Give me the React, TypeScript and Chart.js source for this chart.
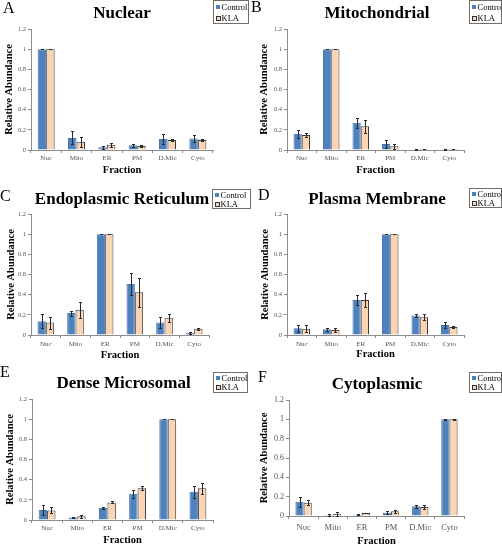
import React, { useEffect, useRef } from 'react';
import { Chart, registerables } from 'chart.js';

Chart.register(...registerables);

// ---------- data ----------
const categories = ['Nuc', 'Mito', 'ER', 'PM', 'D.Mic', 'Cyto'];
const seriesNames = ['Control', 'KLA'];
const yMin = 0;
const yMax = 1.2;
const yStep = 0.2;

const nuclearControl = [1, 0.12, 0.028, 0.046, 0.11, 0.115];
const nuclearControlErr = [0.003, 0.065, 0.014, 0.016, 0.05, 0.035];
const nuclearKLA = [1, 0.082, 0.052, 0.039, 0.1, 0.1];
const nuclearKLAErr = [0.003, 0.05, 0.02, 0.012, 0.012, 0.01];

const mitoControl = [0.16, 1, 0.27, 0.059, 0.005, 0.005];
const mitoControlErr = [0.04, 0.003, 0.05, 0.04, 0.002, 0.002];
const mitoKLA = [0.15, 1, 0.236, 0.036, 0.01, 0.01];
const mitoKLAErr = [0.02, 0.003, 0.065, 0.025, 0.002, 0.002];

const erControl = [0.137, 0.217, 1, 0.507, 0.123, 0.023];
const erControlErr = [0.07, 0.025, 0.003, 0.11, 0.055, 0.01];
const erKLA = [0.123, 0.25, 1, 0.423, 0.17, 0.063];
const erKLAErr = [0.06, 0.08, 0.003, 0.145, 0.04, 0.01];

const pmControl = [0.067, 0.057, 0.347, 1, 0.193, 0.1];
const pmControlErr = [0.033, 0.016, 0.053, 0.003, 0.017, 0.027];
const pmKLA = [0.063, 0.05, 0.347, 1, 0.177, 0.08];
const pmKLAErr = [0.037, 0.023, 0.07, 0.003, 0.03, 0.013];

const dmicControl = [0.098, 0.026, 0.118, 0.26, 1, 0.28];
const dmicControlErr = [0.046, 0.005, 0.007, 0.04, 0.003, 0.06];
const dmicKLA = [0.095, 0.036, 0.174, 0.315, 1, 0.315];
const dmicKLAErr = [0.03, 0.014, 0.01, 0.02, 0.003, 0.055];

const cytoControl = [0.148, 0.01, 0.014, 0.034, 0.1, 1];
const cytoControlErr = [0.052, 0.007, 0.004, 0.014, 0.014, 0.003];
const cytoKLA = [0.138, 0.02, 0.03, 0.048, 0.093, 1];
const cytoKLAErr = [0.027, 0.018, 0.004, 0.017, 0.021, 0.003];

const panelTitles = ['Nuclear', 'Mitochondrial', 'Endoplasmic Reticulum', 'Plasma Membrane', 'Dense Microsomal', 'Cytoplasmic'];
const panelLetters = ['A', 'B', 'C', 'D', 'E', 'F'];
const xAxisTitle = 'Fraction';
const yAxisTitle = 'Relative Abundance';

// ---------- style / layout ----------
const SERIF = '"Liberation Serif", "Times New Roman", Times, serif';
const CONTROL_FILL = '#4f81bd';
const CONTROL_BORDER = '#4676b0';
const KLA_FILL = '#fbd4b4';
const KLA_BORDER = '#3c3c3c';
const AXIS_GRAY = '#8c8c8c';
const TICK_GRAY = '#555555';

type Layout = {
  left: number; top: number; w: number; h: number;
  pl: number; pr: number; pt: number; pb: number;
  xTickPad: number; xTitleY: number; yTitleX: number;
  tickSize: number; catSize: number;
  titleX: number; titleTop: number;
  letterX: number; letterTop: number;
  lx: number; ly: number; lw: number; lh: number;
};

const layouts: Layout[] = [
  { left: 0, top: 0, w: 251, h: 181, pl: 31, pr: 213, pt: 29, pb: 150, xTickPad: 1, xTitleY: 170.5, yTitleX: 9.5, tickSize: 6.5, catSize: 7, titleX: 122, titleTop: 3.7, letterX: 3, letterTop: 0, lx: 213, ly: 0, lw: 36, lh: 24 },
  { left: 251, top: 0, w: 251, h: 181, pl: 36, pr: 213, pt: 29, pb: 150, xTickPad: 1, xTitleY: 170.5, yTitleX: 13, tickSize: 6.5, catSize: 7, titleX: 126, titleTop: 3.7, letterX: 0, letterTop: -1, lx: 218, ly: 0, lw: 33, lh: 24 },
  { left: 0, top: 181, w: 251, h: 181, pl: 31, pr: 209, pt: 33, pb: 154, xTickPad: 2, xTitleY: 174, yTitleX: 11, tickSize: 6.5, catSize: 7, titleX: 122, titleTop: 9.3, letterX: 0, letterTop: 6.5, lx: 212, ly: 8, lw: 39, lh: 20 },
  { left: 251, top: 181, w: 251, h: 181, pl: 36, pr: 213, pt: 33, pb: 154, xTickPad: 2, xTitleY: 173.5, yTitleX: 14, tickSize: 6.5, catSize: 7, titleX: 126, titleTop: 8.7, letterX: 7, letterTop: 5.5, lx: 218, ly: 7, lw: 33, lh: 20 },
  { left: 0, top: 362, w: 251, h: 182, pl: 32, pr: 213, pt: 37, pb: 158, xTickPad: 1, xTitleY: 178, yTitleX: 10, tickSize: 6.5, catSize: 7, titleX: 123.5, titleTop: 12, letterX: 0, letterTop: 2, lx: 213, ly: 10, lw: 35, lh: 21 },
  { left: 251, top: 362, w: 251, h: 182, pl: 38, pr: 213, pt: 38, pb: 154, xTickPad: 3.5, xTitleY: 179, yTitleX: 13, tickSize: 8, catSize: 8.5, titleX: 126, titleTop: 13, letterX: 7, letterTop: 6.5, lx: 218, ly: 10, lw: 33, lh: 21 },
];

const panelData = [
  [nuclearControl, nuclearControlErr, nuclearKLA, nuclearKLAErr],
  [mitoControl, mitoControlErr, mitoKLA, mitoKLAErr],
  [erControl, erControlErr, erKLA, erKLAErr],
  [pmControl, pmControlErr, pmKLA, pmKLAErr],
  [dmicControl, dmicControlErr, dmicKLA, dmicKLAErr],
  [cytoControl, cytoControlErr, cytoKLA, cytoKLAErr],
];

const errorBarPlugin = {
  id: 'errorBars',
  afterDatasetsDraw(chart: any) {
    const ctx = chart.ctx;
    const yScale = chart.scales.y;
    chart.data.datasets.forEach((ds: any, i: number) => {
      const meta = chart.getDatasetMeta(i);
      const errs: number[] = ds.errors || [];
      meta.data.forEach((bar: any, j: number) => {
        const v = ds.data[j];
        const e = errs[j] || 0;
        const x = Math.round(bar.x) + 0.5;
        const yT = Math.round(yScale.getPixelForValue(v + e)) + 0.5;
        const yB = Math.round(yScale.getPixelForValue(Math.max(0, v - e))) + 0.5;
        ctx.save();
        ctx.strokeStyle = '#2a2a2a';
        ctx.lineWidth = 1;
        ctx.beginPath();
        ctx.moveTo(x, yT);
        ctx.lineTo(x, yB);
        ctx.moveTo(x - 1.5, yT);
        ctx.lineTo(x + 1.5, yT);
        ctx.moveTo(x - 1.5, yB);
        ctx.lineTo(x + 1.5, yB);
        ctx.stroke();
        ctx.restore();
      });
    });
  },
};

function Panel({ idx }: { idx: number }) {
  const ref = useRef<HTMLCanvasElement | null>(null);
  const L = layouts[idx];
  const [ctrl, ctrlErr, kla, klaErr] = panelData[idx];

  useEffect(() => {
    if (!ref.current) return;
    const chart = new Chart(ref.current, {
      type: 'bar',
      data: {
        labels: categories,
        datasets: [
          {
            label: seriesNames[0], data: ctrl, errors: ctrlErr,
            backgroundColor: CONTROL_FILL, borderColor: CONTROL_BORDER, borderWidth: 1,
            categoryPercentage: 0.56, barPercentage: 1.0,
          } as any,
          {
            label: seriesNames[1], data: kla, errors: klaErr,
            backgroundColor: KLA_FILL, borderColor: KLA_BORDER, borderWidth: 1,
            categoryPercentage: 0.56, barPercentage: 1.0,
          } as any,
        ],
      },
      options: {
        responsive: false,
        maintainAspectRatio: false,
        animation: false,
        devicePixelRatio: 1,
        layout: { padding: { left: 0, right: L.w - L.pr, top: L.pt, bottom: 0 } },
        plugins: { legend: { display: false }, tooltip: { enabled: false }, title: { display: false } },
        scales: {
          x: {
            grid: { display: true, drawOnChartArea: false, drawTicks: true, tickLength: 3, color: AXIS_GRAY, offset: true },
            border: { display: true, color: AXIS_GRAY, width: 1 },
            ticks: { font: { family: SERIF, size: L.catSize }, color: TICK_GRAY, padding: L.xTickPad, maxRotation: 0, autoSkip: false },
            title: {
              display: true, text: xAxisTitle, color: '#000',
              font: { family: SERIF, size: 10.5, weight: 'bold', lineHeight: 1.2 },
              padding: { top: 0, bottom: L.h - L.xTitleY - 6.3 },
            },
            afterFit: (axis: any) => { axis.height = L.h - L.pb; },
          },
          y: {
            min: yMin, max: yMax,
            grid: { display: true, drawOnChartArea: false, drawTicks: true, tickLength: 3, color: AXIS_GRAY },
            border: { display: true, color: AXIS_GRAY, width: 1 },
            ticks: {
              stepSize: yStep, font: { family: SERIF, size: L.tickSize }, color: TICK_GRAY, padding: 2,
              callback: (v: any) => String(Number(Number(v).toFixed(2))),
            },
            title: {
              display: true, text: yAxisTitle, color: '#000',
              font: { family: SERIF, size: 10.5, weight: 'bold', lineHeight: 1.2 },
              padding: { top: L.yTitleX - 6.3, bottom: 0 },
            },
            afterFit: (axis: any) => { axis.width = L.pl; },
          },
        },
      } as any,
      plugins: [errorBarPlugin],
    });
    return () => chart.destroy();
  }, []);

  const rowH = L.lh / 2;
  return (
    <div style={{ position: 'absolute', left: L.left, top: L.top, width: L.w, height: L.h }}>
      <canvas ref={ref} width={L.w} height={L.h} style={{ position: 'absolute', left: 0, top: 0, width: L.w, height: L.h }} />
      <div style={{ position: 'absolute', left: L.letterX, top: L.letterTop, fontFamily: SERIF, fontSize: 16, lineHeight: '16px', color: '#000', whiteSpace: 'nowrap' }}>
        {panelLetters[idx]}
      </div>
      <div style={{ position: 'absolute', left: L.titleX - 150, width: 300, top: L.titleTop, textAlign: 'center', fontFamily: SERIF, fontSize: 17, fontWeight: 'bold', lineHeight: '17px', color: '#000', whiteSpace: 'nowrap' }}>
        {panelTitles[idx]}
      </div>
      <div style={{ position: 'absolute', left: L.lx, top: L.ly, width: L.lw, height: L.lh, boxSizing: 'border-box', border: '1px solid #6e6e6e', background: '#fff', fontFamily: SERIF, fontSize: 8.5, color: '#000' }}>
        <div style={{ position: 'absolute', left: 2, top: 0, height: rowH, display: 'flex', alignItems: 'center', whiteSpace: 'nowrap' }}>
          <span style={{ display: 'inline-block', width: 4, height: 4, background: CONTROL_FILL, marginRight: 1.5 }} />
          <span style={{ lineHeight: '9px' }}>{seriesNames[0]}</span>
        </div>
        <div style={{ position: 'absolute', left: 1.5, top: rowH - 1, height: rowH, display: 'flex', alignItems: 'center', whiteSpace: 'nowrap' }}>
          <span style={{ display: 'inline-block', width: 5, height: 5, boxSizing: 'border-box', background: KLA_FILL, border: '1px solid #333', marginRight: 1 }} />
          <span style={{ lineHeight: '9px' }}>{seriesNames[1]}</span>
        </div>
      </div>
    </div>
  );
}

export default function App() {
  return (
    <div style={{ position: 'absolute', left: 0, top: 0, width: 502, height: 544, background: '#fff', overflow: 'hidden' }}>
      {layouts.map((_, i) => <Panel key={i} idx={i} />)}
    </div>
  );
}
